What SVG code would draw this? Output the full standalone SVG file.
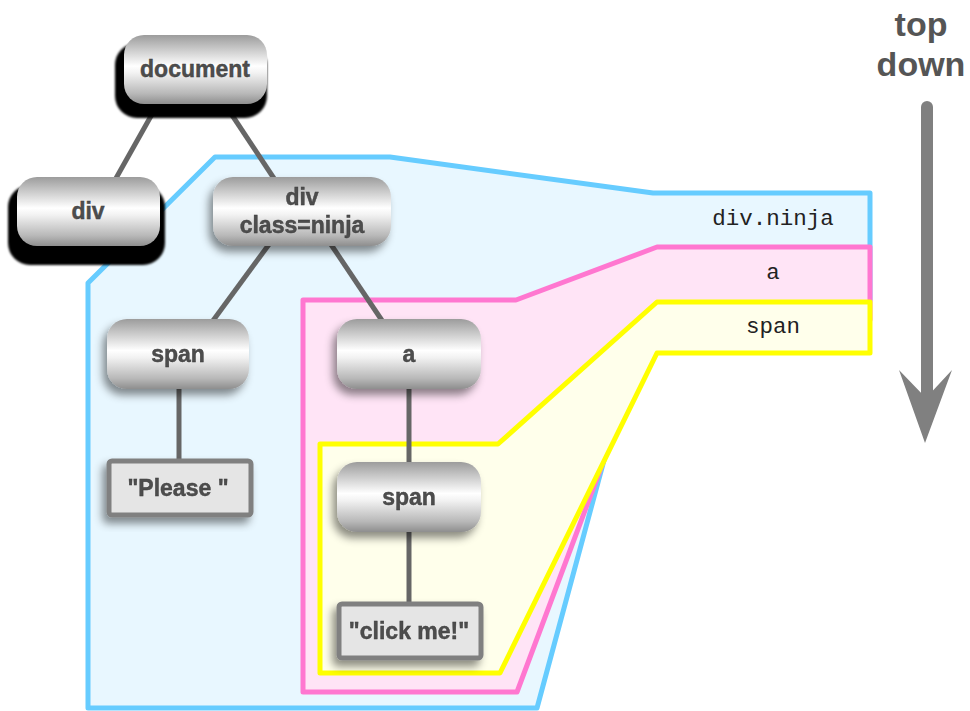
<svg xmlns="http://www.w3.org/2000/svg" width="970" height="711" viewBox="0 0 970 711">
<defs>
<linearGradient id="metal" x1="0" y1="0" x2="0" y2="1">
<stop offset="0" stop-color="#9c9c9c"/>
<stop offset="0.18" stop-color="#c4c4c4"/>
<stop offset="0.45" stop-color="#ffffff"/>
<stop offset="0.55" stop-color="#f2f2f2"/>
<stop offset="0.85" stop-color="#b8b8b8"/>
<stop offset="1" stop-color="#8e8e8e"/>
</linearGradient>
<filter id="soft" x="-20%" y="-20%" width="140%" height="150%">
<feDropShadow dx="-4" dy="6" stdDeviation="4" flood-color="#000" flood-opacity="0.45"/>
</filter>
<filter id="hard" x="-20%" y="-20%" width="140%" height="150%">
<feGaussianBlur stdDeviation="1.2"/>
</filter>
</defs>
<style>
.region{stroke-width:5;stroke-linejoin:round}
.blue{fill:#E8F7FF;stroke:#66CCFF}
.pink{fill:#FFE4F6;stroke:#FF77D0}
.yellow{fill:#FFFFEB;stroke:#FFFF00}
.rlabel{font-family:"Liberation Mono",monospace;font-size:22.5px;fill:#222;text-anchor:middle}
.node{fill:url(#metal)}
.tnode{fill:#E5E5E5;stroke:#808080;stroke-width:5}
.label{font-family:"Liberation Sans",Arial,sans-serif;font-weight:bold;font-size:23px;fill:#4d4d4d;text-anchor:middle;stroke:#3a3a3a;stroke-width:0.4}
.edge{stroke:#666;stroke-width:5;fill:none}
.big{font-family:"Liberation Sans",Arial,sans-serif;font-weight:bold;font-size:34px;fill:#555;text-anchor:middle}
</style>

<g id="region-div-ninja">
<polygon class="region blue" points="88,283 215,157 390,157 653,193 870,193 870,300 633,353 537,708 88,708"/>
<text class="rlabel" x="773" y="225">div.ninja</text>
</g>
<g id="region-a">
<polygon class="region pink" points="303,300 516,300 657,247 870,247 870,320 644,353 517,692 303,692"/>
<text class="rlabel" x="773" y="279">a</text>
</g>
<g id="region-span">
<polygon class="region yellow" points="320,444 498,444 657,302 870,302 870,353 657,353 500,673 320,673"/>
<text class="rlabel" x="773" y="333">span</text>
</g>

<g id="connectors">
<line class="edge" x1="160" y1="100" x2="115" y2="180"/>
<line class="edge" x1="222" y1="100" x2="275" y2="180"/>
<line class="edge" x1="270" y1="243" x2="212" y2="322"/>
<line class="edge" x1="330" y1="243" x2="383" y2="322"/>
<line class="edge" x1="179" y1="386" x2="179" y2="461"/>
<line class="edge" x1="409" y1="387" x2="409" y2="464"/>
<line class="edge" x1="409" y1="530" x2="409" y2="604"/>
</g>

<g id="node-document">
<rect x="115" y="43" width="152" height="75" rx="22" fill="#000" filter="url(#hard)"/>
<rect class="node" x="124" y="35" width="143" height="69" rx="20"/>
<text class="label" x="195" y="77">document</text>
</g>
<g id="node-div">
<rect x="8" y="185" width="157" height="80" rx="22" fill="#000" filter="url(#hard)"/>
<rect class="node" x="17" y="177" width="143" height="69" rx="20"/>
<text class="label" x="88" y="219">div</text>
</g>
<g id="node-div-ninja" filter="url(#soft)">
<rect class="node" x="213" y="177" width="178" height="69" rx="20"/>
<text class="label" x="302" y="205">div</text>
<text class="label" x="302" y="233">class=ninja</text>
</g>
<g id="node-span1" filter="url(#soft)">
<rect class="node" x="107" y="319" width="142" height="70" rx="20"/>
<text class="label" x="178" y="362">span</text>
</g>
<g id="node-please" filter="url(#soft)">
<rect class="tnode" x="109" y="461" width="142" height="54" rx="3"/>
<text class="label" x="178" y="496">"Please "</text>
</g>
<g id="node-a" filter="url(#soft)">
<rect class="node" x="337" y="319" width="144" height="70" rx="20"/>
<text class="label" x="409" y="362">a</text>
</g>
<g id="node-span2" filter="url(#soft)">
<rect class="node" x="337" y="462" width="144" height="70" rx="20"/>
<text class="label" x="409" y="505">span</text>
</g>
<g id="node-click" filter="url(#soft)">
<rect class="tnode" x="339" y="604" width="142" height="54" rx="3"/>
<text class="label" x="409" y="639">"click me!"</text>
</g>

<g id="topdown">
<text class="big" x="921" y="36">top</text>
<text class="big" x="921" y="76">down</text>
<line x1="927" y1="107" x2="927" y2="400" stroke="#808080" stroke-width="12" stroke-linecap="round"/>
<polygon points="899,370 925,443 952,370 926,398" fill="#808080"/>
</g>
</svg>
